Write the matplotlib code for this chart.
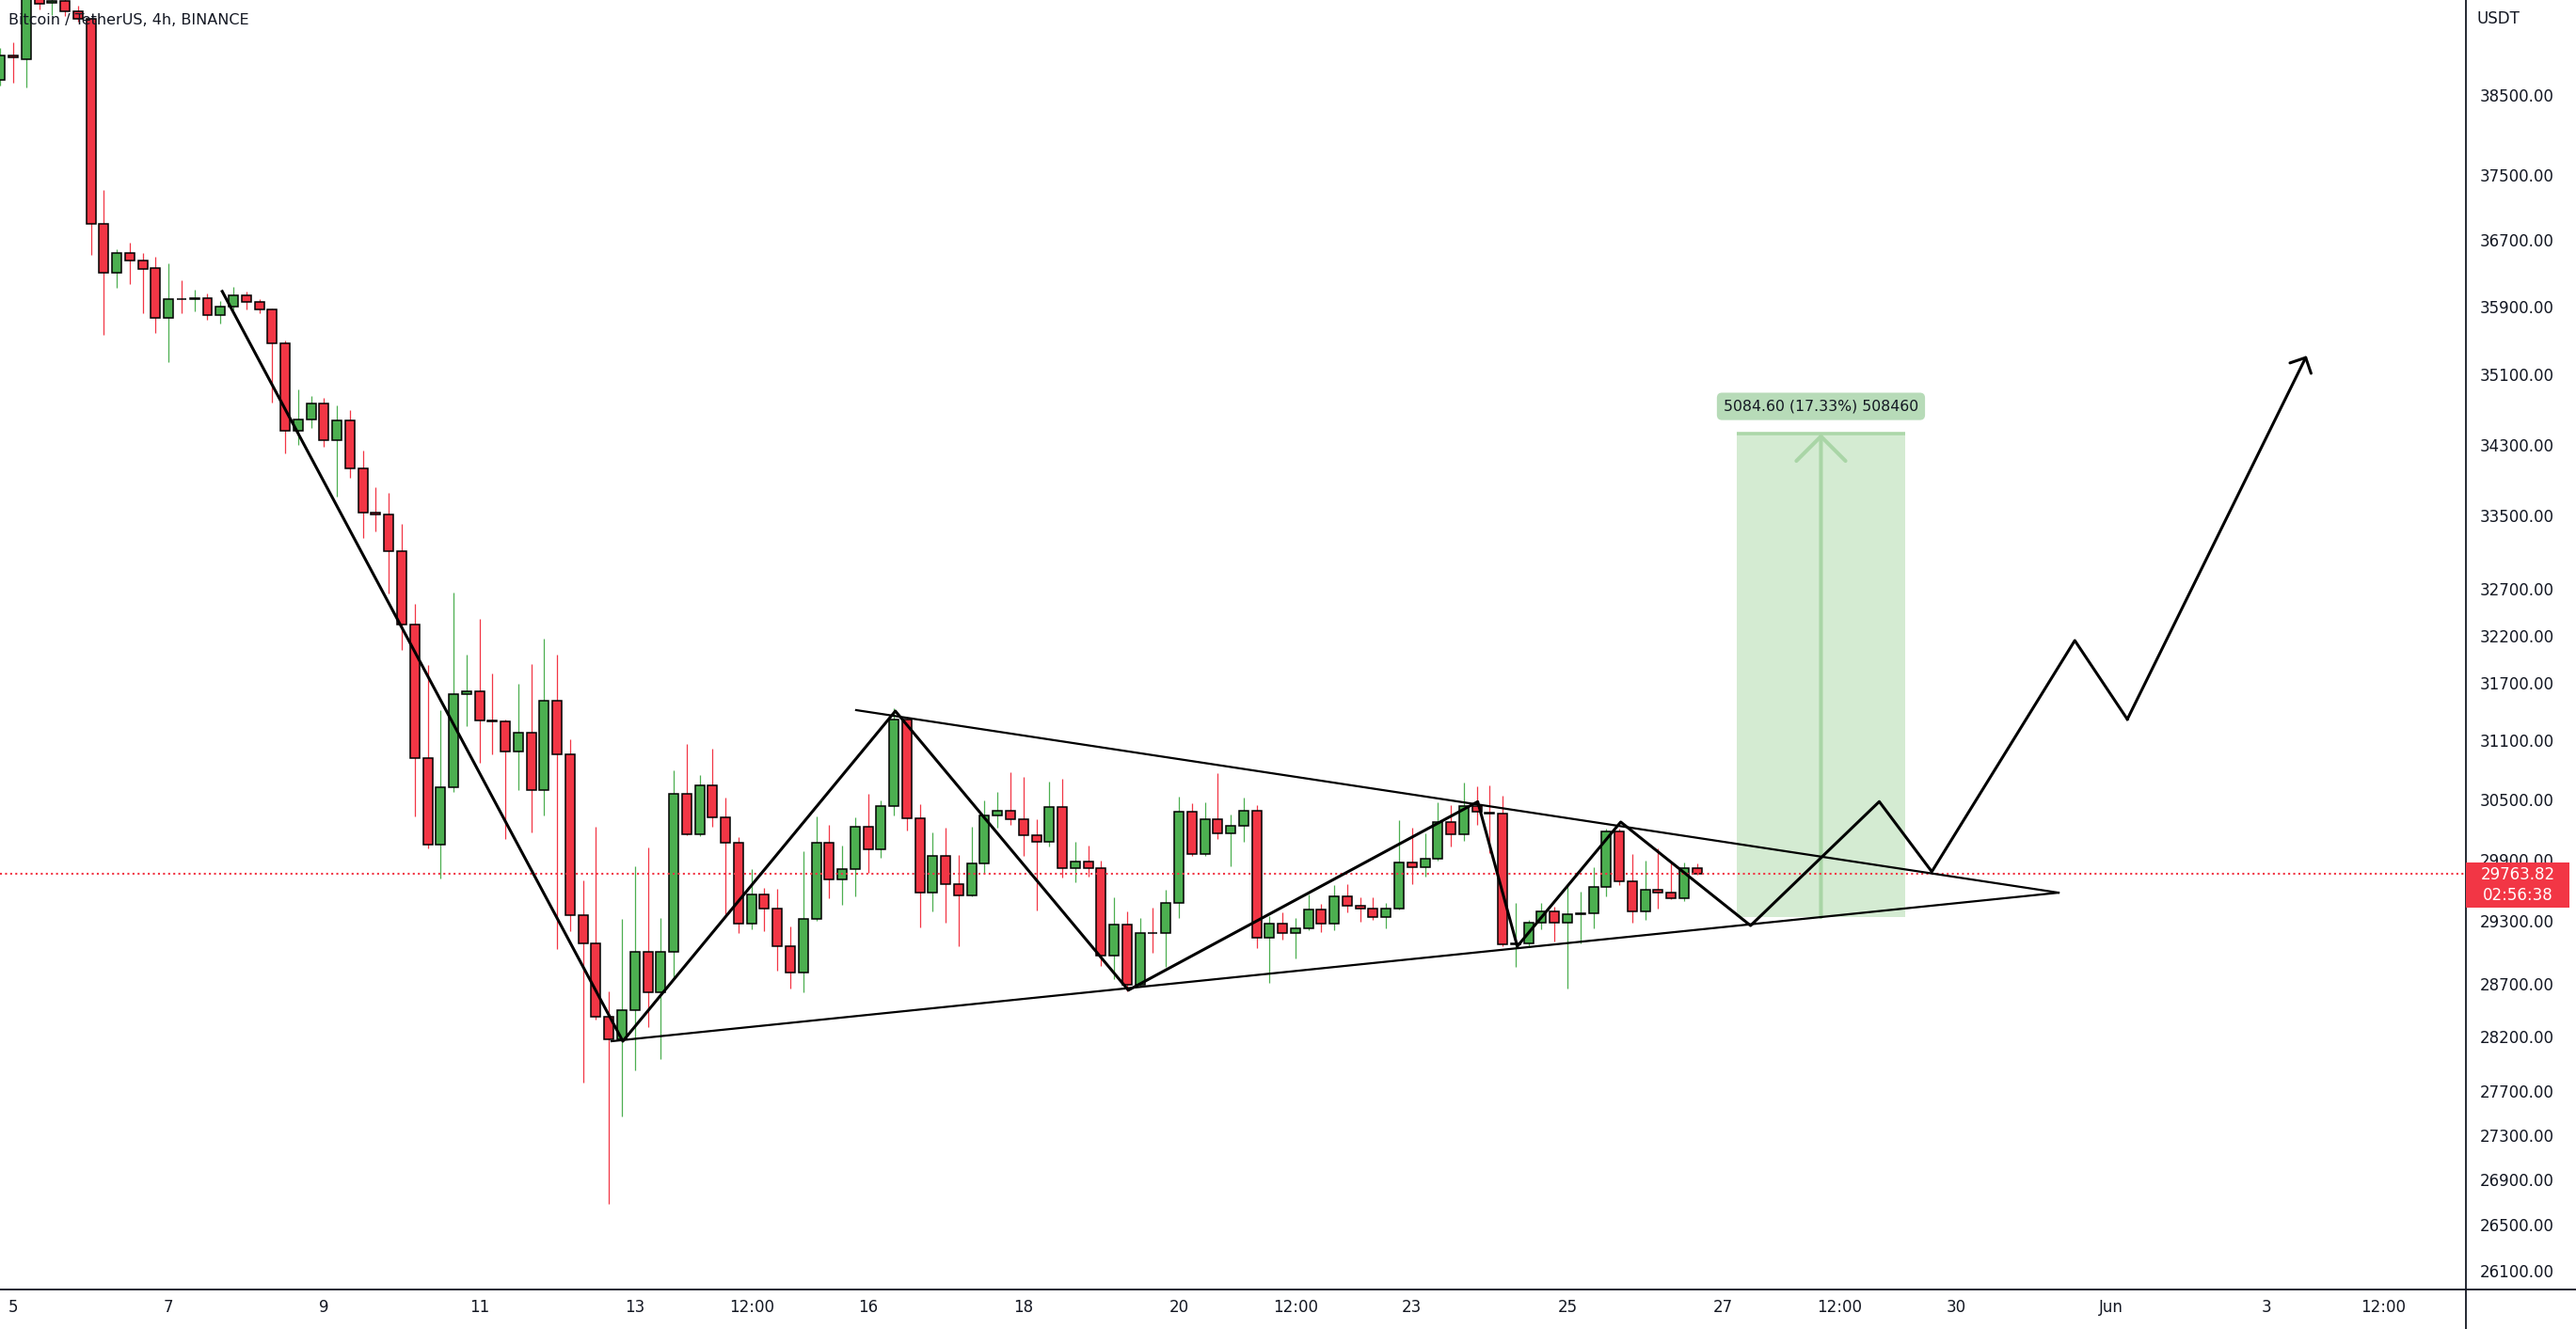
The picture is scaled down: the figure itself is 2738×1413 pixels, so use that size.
import matplotlib
matplotlib.use("Agg")
import matplotlib.pyplot as plt
import numpy as np
import pandas as pd
from matplotlib.patches import Rectangle
from matplotlib.lines import Line2D

plt.rcParams['font.family'] = ['DejaVu Sans']

# ---------------- data (BTC/USDT 4h candles) ----------------
first_candle = '2022-05-04 20:00'
opens = [38690, 39000, 38960, 39950, 39690, 39720, 39574, 39480, 36890, 36302,
         36538, 36450, 36360, 35760, 35990, 35985, 35995, 35800, 35900, 36035,
         35950, 35860, 35464, 34460, 34580, 34772, 34349, 34570, 34030, 33540,
         33510, 33109, 32315, 30924, 30050, 30624, 31587, 31610, 31304, 31300,
         30991, 31185, 30594, 31517, 30958, 29353, 29087, 28387, 28177, 28451,
         29000, 28620, 29005, 30563, 30152, 30648, 30321, 30068, 29277, 29560,
         29424, 29056, 28802, 29318, 30068, 29709, 29807, 30225, 30000, 30437,
         31319, 30313, 29575, 29937, 29661, 29553, 29861, 30343, 30391, 30305,
         30140, 30080, 30422, 29813, 29884, 29813, 28967, 29262, 28690, 29183,
         29180, 29480, 30376, 29953, 30305, 30160, 30240, 30391, 29140, 29274,
         29183, 29230, 29410, 29274, 29537, 29445, 29420, 29340, 29420, 29876,
         29824, 29910, 30272, 30150, 30437, 30370, 30355, 29072, 29085, 29280,
         29390, 29280, 29365, 29375, 29633, 30178, 29684, 29390, 29605, 29580,
         29525, 29820]
highs = [39100, 39180, 40200, 40100, 39900, 39800, 39650, 39500, 37312, 36590,
         36660, 36540, 36500, 36420, 36210, 36100, 36060, 35960, 36130, 36080,
         35990, 35880, 35500, 34930, 34855, 34830, 34750, 34690, 34230, 33820,
         33760, 33410, 32540, 31890, 31415, 32657, 32000, 32373, 31800, 31320,
         31690, 31900, 32170, 32000, 31110, 29700, 30230, 28630, 29320, 29840,
         30020, 29330, 30800, 31070, 30750, 31020, 30520, 30120, 29810, 29620,
         29610, 29250, 29980, 30330, 30250, 30040, 30320, 30560, 30490, 31440,
         31340, 30450, 30170, 30220, 29950, 30230, 30490, 30580, 30780, 30730,
         30300, 30680, 30710, 30080, 30040, 29890, 29530, 29390, 29330, 29430,
         29600, 30530, 30460, 30470, 30770, 30350, 30520, 30440, 29350, 29380,
         29330, 29560, 29470, 29650, 29660, 29530, 29530, 29475, 30290, 30220,
         30160, 30470, 30440, 30670, 30630, 30645, 30540, 29480, 29310, 29480,
         29440, 29640, 29590, 29830, 30210, 30210, 29960, 29890, 30010, 29880,
         29870, 29860]
lows = [38620, 38650, 38590, 39600, 39530, 39519, 39450, 36517, 35567, 36125,
        36165, 35825, 35590, 35248, 35825, 35840, 35740, 35700, 35870, 35860,
        35825, 34782, 34199, 34300, 34490, 34275, 33713, 33920, 33260, 33330,
        32653, 32047, 30332, 30010, 29715, 30580, 31250, 30870, 30960, 30110,
        30600, 30170, 30340, 29030, 29200, 27780, 28360, 26684, 27465, 27890,
        28290, 27990, 28740, 30140, 30130, 30230, 29365, 29185, 29220, 29200,
        28820, 28650, 28620, 29300, 29520, 29460, 29540, 29770, 29920, 30340,
        30190, 29240, 29390, 29280, 29060, 29540, 29770, 30220, 30250, 29940,
        29400, 30030, 29720, 29680, 29730, 28870, 28740, 28630, 28670, 28990,
        28860, 29330, 29940, 29940, 30110, 29840, 30080, 29040, 28710, 29120,
        28940, 29215, 29190, 29210, 29380, 29290, 29310, 29230, 29410, 29660,
        29730, 29890, 30030, 30085, 30250, 29970, 29055, 28860, 29050, 29220,
        29100, 28650, 29080, 29230, 29540, 29650, 29280, 29310, 29420, 29515,
        29490, 29750]
closes = [39000, 38980, 39950, 39684, 39720, 39574, 39481, 36894, 36302, 36538,
          36452, 36351, 35760, 35985, 35985, 35995, 35800, 35900, 36035, 35950,
          35860, 35464, 34460, 34580, 34772, 34349, 34570, 34031, 33540, 33510,
          33109, 32315, 30924, 30050, 30624, 31587, 31610, 31304, 31300, 30991,
          31185, 30594, 31517, 30958, 29353, 29087, 28387, 28177, 28451, 29000,
          28620, 29005, 30563, 30152, 30648, 30321, 30068, 29277, 29560, 29424,
          29056, 28802, 29318, 30068, 29709, 29807, 30225, 30000, 30437, 31319,
          30313, 29575, 29937, 29661, 29553, 29861, 30343, 30391, 30305, 30140,
          30080, 30422, 29813, 29884, 29813, 28967, 29262, 28690, 29183, 29180,
          29480, 30376, 29953, 30305, 30160, 30240, 30391, 29142, 29274, 29183,
          29230, 29410, 29274, 29537, 29445, 29420, 29340, 29420, 29876, 29824,
          29910, 30272, 30150, 30437, 30375, 30355, 29072, 29085, 29280, 29390,
          29280, 29365, 29375, 29633, 30178, 29684, 29390, 29605, 29580, 29525,
          29820, 29763.82]

last_price = 29763.82
countdown = '02:56:38'

price_ticks = [38500, 37500, 36700, 35900, 35100, 34300, 33500, 32700, 32200, 31700,
               31100, 30500, 29900, 29300, 28700, 28200, 27700, 27300, 26900, 26500, 26100]
date_ticks = ['2022-05-05', '2022-05-07', '2022-05-09', '2022-05-11', '2022-05-13',
              '2022-05-14 12:00', '2022-05-16', '2022-05-18', '2022-05-20',
              '2022-05-21 12:00', '2022-05-23', '2022-05-25', '2022-05-27',
              '2022-05-28 12:00', '2022-05-30', '2022-06-01', '2022-06-03',
              '2022-06-04 12:00']
date_labels = ['5', '7', '9', '11', '13', '12:00', '16', '18', '20', '12:00', '23',
               '25', '27', '12:00', '30', 'Jun', '3', '12:00']

# drawing anchors (day of May, price)
zigzag_days = [7.69, 12.845, 16.352, 19.350, 23.846, 24.355, 25.686, 27.357,
               29.013, 29.689, 31.529, 32.205, 34.512]
zigzag_prices = [36080, 28159, 31406, 28638, 30479, 29056, 30275, 29256,
                 30480, 29782, 32147, 31321, 35320]
upper_days = [15.847, 31.320]
upper_prices = [31416, 29576]
lower_days = [12.700, 31.320]
lower_prices = [28159, 29576]
target_days = [27.179, 29.346]
target_prices = [29337.4, 34422.0]
target_label = '5084.60 (17.33%) 508460'

# ---------------- figure ----------------
W, H = 2738, 1413
fig = plt.figure(figsize=(W / 100, H / 100), dpi=100)
fig.patch.set_facecolor('white')
ax_right = 2621 / W
ax_bottom = (H - 1371) / H
ax = fig.add_axes([0, ax_bottom, ax_right, 1 - ax_bottom])
ax.set_facecolor('white')

origin = pd.Timestamp('2022-04-30')
times = pd.date_range(first_candle, periods=len(opens), freq='4h')
xs = np.asarray((times - origin) / pd.Timedelta(days=1), dtype=float)

o = np.array(opens, float)
h = np.array(highs, float)
l = np.array(lows, float)
c = np.array(closes, float)
up = c >= o
GREEN = '#4caf50'
RED = '#f23645'
cols = np.where(up, GREEN, RED)

ax.vlines(xs, l, h, colors=cols, linewidth=0.9, zorder=2)
body_lo = np.minimum(o, c)
body_h = np.maximum(np.abs(c - o), 1.0)
ax.bar(xs, body_h, bottom=body_lo, width=0.121, color=cols, edgecolor='black',
       linewidth=1.1, zorder=3)

ax.set_yscale('log')
ax.set_ylim(25940, 39728)
ax.set_xlim(4.8305, 36.562)

# target box
tb = Rectangle((target_days[0], target_prices[0]), target_days[1] - target_days[0],
               target_prices[1] - target_prices[0], facecolor='#d4ebd2', edgecolor='none',
               zorder=1)
ax.add_patch(tb)
ax.plot(target_days, [target_prices[1]] * 2, color='#acd7a9', lw=2.6, zorder=1.5,
        solid_capstyle='butt')
mid = (target_days[0] + target_days[1]) / 2
ax.annotate('', xy=(mid, target_prices[1]), xytext=(mid, target_prices[0]),
            arrowprops=dict(arrowstyle='->,head_length=0.94,head_width=0.94',
                            color='#a9d5a6', lw=2.9, shrinkA=0, shrinkB=0,
                            mutation_scale=20), zorder=1.6)
ax.text(mid, 34734, target_label, ha='center', va='center', fontsize=11.3,
        color='#131722', zorder=6,
        bbox=dict(boxstyle='round,pad=0.45,rounding_size=0.35', fc='#b7dbb8', ec='none'))

# last price line
ax.axhline(last_price, color=RED, lw=1.5, ls=(0, (1, 1.6)), zorder=4)

# pattern drawings
ax.plot(upper_days, upper_prices, color='black', lw=1.6, zorder=5)
ax.plot(lower_days, lower_prices, color='black', lw=1.6, zorder=5)
ax.plot(zigzag_days[:-1], zigzag_prices[:-1], color='black', lw=2.2, zorder=5)
ax.annotate('', xy=(zigzag_days[-1], zigzag_prices[-1]),
            xytext=(zigzag_days[-2], zigzag_prices[-2]),
            arrowprops=dict(arrowstyle='->,head_length=0.45,head_width=0.45',
                            color='black', lw=2.2, shrinkA=0, shrinkB=0,
                            mutation_scale=20), zorder=5)

# axes formatting
for s in ax.spines.values():
    s.set_visible(False)
ax.yaxis.tick_right()
ax.set_yticks(price_ticks)
ax.set_yticklabels([f'{p:.2f}' for p in price_ticks])
ax.yaxis.set_minor_locator(matplotlib.ticker.NullLocator())
date_pos = [(pd.Timestamp(t) - origin) / pd.Timedelta(days=1) for t in date_ticks]
ax.set_xticks(date_pos)
ax.set_xticklabels(date_labels)
ax.tick_params(axis='y', length=0, pad=10.5, labelsize=12, labelcolor='#131722')
ax.tick_params(axis='x', length=0, pad=7, labelsize=12, labelcolor='#131722')

# frame lines (price scale & time scale separators)
fig.add_artist(Line2D([0, 1], [ax_bottom, ax_bottom], transform=fig.transFigure,
                      color='#131722', lw=1.3))
fig.add_artist(Line2D([ax_right, ax_right], [0, 1], transform=fig.transFigure,
                      color='#131722', lw=1.3))

# titles
fig.text(9 / W, 1 - 21 / H, 'Bitcoin / TetherUS, 4h, BINANCE', ha='left', va='center',
         fontsize=11.5, color='#131722', zorder=10)
fig.text(2632 / W, 1 - 20 / H, 'USDT', ha='left', va='center', fontsize=12,
         color='#131722')

# last price tag on the scale
tag = Rectangle((ax_right, (H - 965) / H), 110 / W, 48 / H, transform=fig.transFigure,
                facecolor=RED, edgecolor='none', zorder=5)
fig.add_artist(tag)
fig.text(2676 / W, 1 - 930 / H, f'{last_price:.2f}', ha='center', va='center',
         fontsize=12, color='white', zorder=6)
fig.text(2676 / W, 1 - 952 / H, countdown, ha='center', va='center',
         fontsize=12, color='white', zorder=6)

fig.savefig('out.png', dpi=100, facecolor='white')
